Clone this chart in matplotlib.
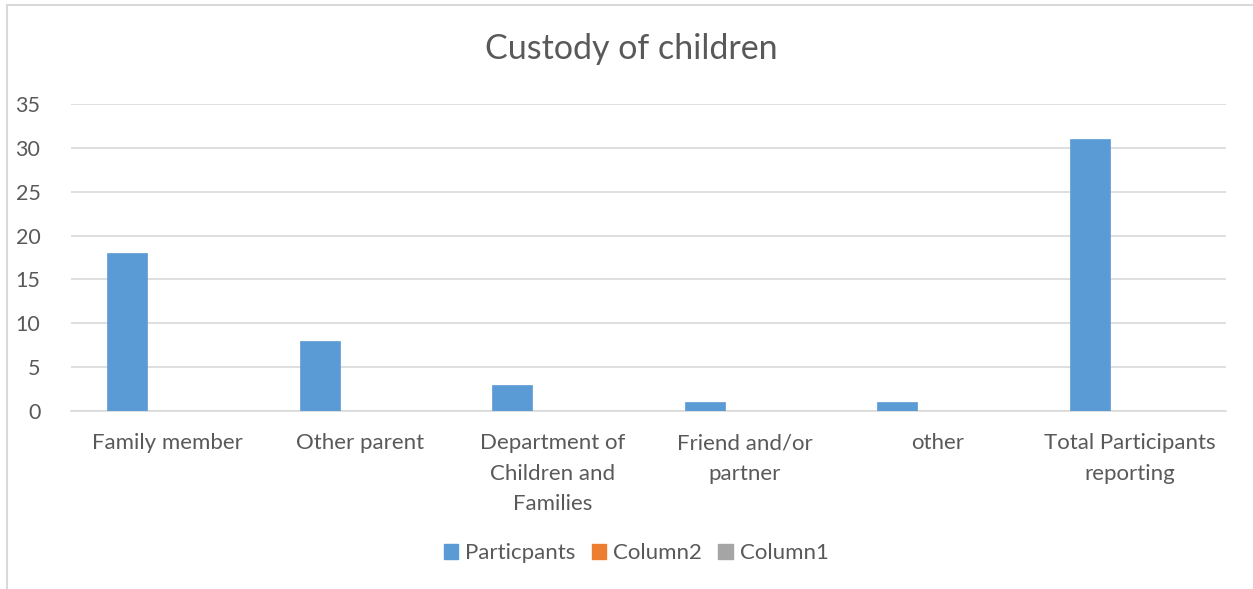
import matplotlib
matplotlib.use("Agg")
import matplotlib.pyplot as plt
from matplotlib.patches import Rectangle, Patch
import numpy as np

categories = ["Family member", "Other parent", "Department of\nChildren and\nFamilies",
              "Friend and/or\npartner", "other", "Total Participants\nreporting"]
participants = [18, 8, 3, 1, 1, 31]
column2 = [0, 0, 0, 0, 0, 0]
column1 = [0, 0, 0, 0, 0, 0]
series_names = ["Particpants", "Column2", "Column1"]
series_colors = ["#5B9BD5", "#ED7D31", "#A5A5A5"]
yticks = [0, 5, 10, 15, 20, 25, 30, 35]

plt.rcParams['font.family'] = ['Lato', 'DejaVu Sans']
txt = "#595959"
W, H = 1253, 589
fig = plt.figure(figsize=(W/100, H/100), dpi=100)
ax = fig.add_axes([71/W, 1-411/H, (1226-71)/W, (411-104)/H])

x = np.arange(len(categories))
w = 0.208
for i, (vals, c) in enumerate(zip([participants, column2, column1], series_colors)):
    ax.bar(x + (i - 1) * w, vals, width=w, color=c, edgecolor=c, linewidth=0.5, zorder=3)

ax.set_xlim(-0.5, len(categories) - 0.5)
ax.set_ylim(0, 35)
ax.set_yticks(yticks)
ax.set_yticklabels([str(v) for v in yticks], fontsize=15.5, color=txt)
ax.set_xticks(x)
ax.set_xticklabels(categories, fontsize=16, color=txt, linespacing=1.65, va='top')
ax.tick_params(axis='both', length=0)
ax.tick_params(axis='y', pad=22)
ax.tick_params(axis='x', pad=16)
ax.grid(axis='y', color='#D9D9D9', linewidth=1.2, zorder=0)
for s in ['top', 'right', 'left']:
    ax.spines[s].set_visible(False)
ax.spines['bottom'].set_color('#D9D9D9')
ax.spines['bottom'].set_linewidth(1.2)

fig.text(631/W, 1-49/H, "Custody of children", ha='center', va='center', fontsize=24.5, color=txt)

handles = [Patch(facecolor=c, edgecolor=c) for c in series_colors]
fig.legend(handles, series_names, loc='center', bbox_to_anchor=(636/W, 1-553/H), ncol=3,
           frameon=False, fontsize=16, labelcolor=txt, handlelength=0.65, handleheight=0.65,
           handletextpad=0.3, columnspacing=0.75)

fig.patches.append(Rectangle((7/W, -0.1), 1.2, 1 - 5/H + 0.1, transform=fig.transFigure,
                             fill=False, edgecolor='#D9D9D9', linewidth=1.5))

fig.savefig("out.png", dpi=100)
